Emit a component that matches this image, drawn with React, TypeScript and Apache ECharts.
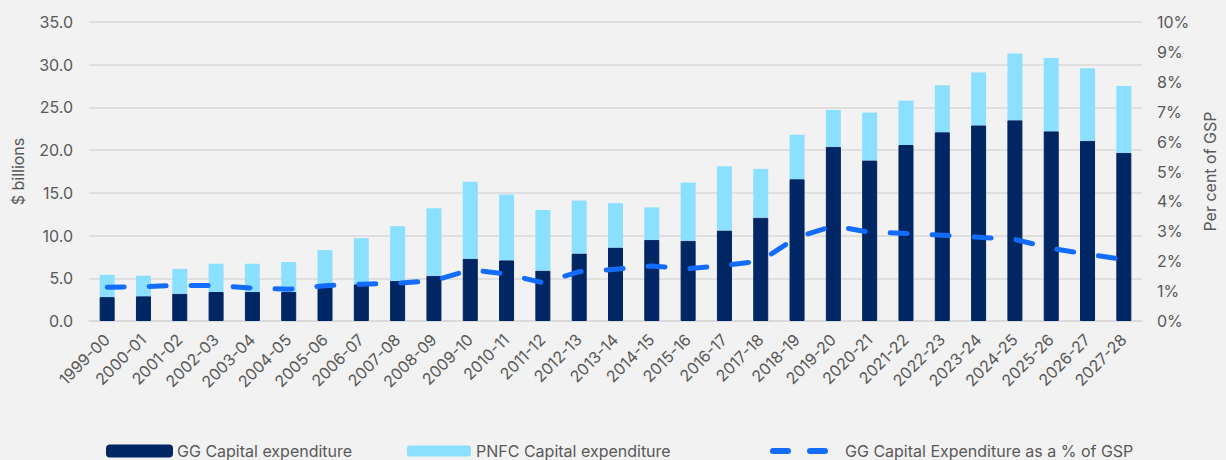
import React, { useEffect, useRef } from "react";
import * as echarts from "echarts";

const categories = [
  "1999-00", "2000-01", "2001-02", "2002-03", "2003-04", "2004-05", "2005-06", "2006-07",
  "2007-08", "2008-09", "2009-10", "2010-11", "2011-12", "2012-13", "2013-14", "2014-15",
  "2015-16", "2016-17", "2017-18", "2018-19", "2019-20", "2020-21", "2021-22", "2022-23",
  "2023-24", "2024-25", "2025-26", "2026-27", "2027-28",
];

const ggCapex = [
  2.8, 2.9, 3.2, 3.4, 3.4, 3.4, 4.0, 4.3, 4.7, 5.3, 7.3, 7.1, 5.9, 7.9, 8.6, 9.5,
  9.4, 10.6, 12.1, 16.6, 20.4, 18.8, 20.6, 22.1, 22.9, 23.5, 22.2, 21.1, 19.7,
];

const pnfcCapex = [
  2.6, 2.4, 2.9, 3.3, 3.3, 3.5, 4.3, 5.4, 6.4, 7.9, 9.0, 7.7, 7.1, 6.2, 5.2, 3.8,
  6.8, 7.5, 5.7, 5.2, 4.3, 5.6, 5.2, 5.5, 6.2, 7.8, 8.6, 8.5, 7.8,
];

const ggPctGsp = [
  1.13, 1.15, 1.19, 1.19, 1.10, 1.06, 1.18, 1.23, 1.26, 1.35, 1.71, 1.57, 1.28, 1.65, 1.73, 1.84,
  1.75, 1.86, 2.01, 2.80, 3.18, 2.97, 2.93, 2.87, 2.80, 2.73, 2.43, 2.23, 2.06,
];

const FONT = "Inter";
const TEXT = "#595959";
const DASH_ICON =
  "path://M3,0 L18,0 A3,3 0 0 1 18,6 L3,6 A3,3 0 0 1 3,0 Z M40,0 L55,0 A3,3 0 0 1 55,6 L40,6 A3,3 0 0 1 40,0 Z";

export default function App() {
  const ref = useRef<HTMLDivElement>(null);

  useEffect(() => {
    if (!ref.current) return;
    const chart = echarts.init(ref.current, null, { renderer: "svg" });
    const legendText = { color: TEXT, fontSize: 16, fontFamily: FONT };
    chart.setOption({
      animation: false,
      backgroundColor: "#F2F2F2",
      textStyle: { fontFamily: FONT },
      grid: { left: 89, right: 80, top: 22, bottom: 139, containLabel: false },
      legend: [
        {
          data: ["GG Capital expenditure"],
          left: 101,
          top: 438,
          itemWidth: 65,
          itemHeight: 11,
          itemGap: 0,
          textStyle: legendText,
          selectedMode: false,
        },
        {
          data: ["PNFC Capital expenditure"],
          left: 402,
          top: 438,
          itemWidth: 64,
          itemHeight: 11,
          textStyle: legendText,
          selectedMode: false,
        },
        {
          data: [{ name: "GG Capital Expenditure as a % of GSP", icon: DASH_ICON }],
          left: 765,
          top: 438,
          itemWidth: 58,
          itemHeight: 6,
          itemStyle: { color: "#146CFD", borderWidth: 0 },
          lineStyle: { opacity: 0 },
          textStyle: { ...legendText, padding: [0, 0, 0, 12] },
          selectedMode: false,
        },
      ],
      xAxis: {
        type: "category",
        data: categories,
        axisLine: { lineStyle: { color: "#D9D9D9", width: 1.5 } },
        axisTick: { show: false },
        axisLabel: {
          rotate: 45,
          color: TEXT,
          fontSize: 16,
          fontFamily: FONT,
          margin: 16,
          interval: 0,
        },
      },
      yAxis: [
        {
          type: "value",
          min: 0,
          max: 35,
          interval: 5,
          name: "$ billions",
          nameLocation: "middle",
          nameRotate: 90,
          nameGap: 63,
          nameTextStyle: { color: TEXT, fontSize: 16, fontFamily: FONT },
          axisLabel: {
            color: TEXT,
            fontSize: 16,
            fontFamily: FONT,
            margin: 16,
            formatter: (v: number) => v.toFixed(1),
          },
          splitLine: { lineStyle: { color: "#D9D9D9", width: 1.5 } },
          axisLine: { show: false },
          axisTick: { show: false },
        },
        {
          type: "value",
          min: 0,
          max: 10,
          interval: 1,
          position: "right",
          name: "Per cent of GSP",
          nameLocation: "middle",
          nameRotate: 90,
          nameGap: 60,
          nameTextStyle: { color: TEXT, fontSize: 16, fontFamily: FONT },
          axisLabel: {
            color: TEXT,
            fontSize: 16,
            fontFamily: FONT,
            margin: 15,
            formatter: (v: number) => `${v}%`,
          },
          splitLine: { show: false },
          axisLine: { show: false },
          axisTick: { show: false },
        },
      ],
      series: [
        {
          name: "GG Capital expenditure",
          type: "bar",
          stack: "capex",
          data: ggCapex,
          barWidth: 15,
          itemStyle: { color: "#002664", borderColor: "#002664", borderWidth: 1 },
        },
        {
          name: "PNFC Capital expenditure",
          type: "bar",
          stack: "capex",
          data: pnfcCapex,
          barWidth: 15,
          itemStyle: { color: "#8CE0FF" },
        },
        {
          name: "GG Capital Expenditure as a % of GSP",
          type: "line",
          yAxisIndex: 1,
          data: ggPctGsp,
          symbol: "none",
          showSymbol: false,
          lineStyle: { color: "#146CFD", width: 5, type: [17, 25], cap: "round" },
          itemStyle: { color: "#146CFD" },
          z: 5,
        },
      ],
    });
    return () => chart.dispose();
  }, []);

  return (
    <div
      ref={ref}
      style={{ position: "absolute", left: 0, top: 0, width: 1226, height: 460, background: "#F2F2F2" }}
    />
  );
}
